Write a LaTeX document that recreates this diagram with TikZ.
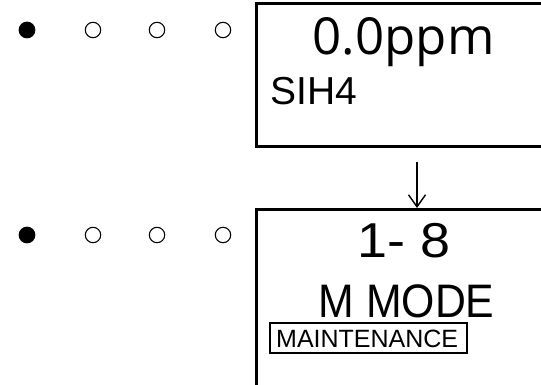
\documentclass[tikz,border=0pt]{standalone}
\usepackage{fontspec}
\setmainfont{Liberation Sans}
\newfontfamily\ppmfont{Open Sans}
\usetikzlibrary {arrows.meta}

\tikzset{
  lcd/.style={line width=3pt},
  ledon/.style={fill=black},
  ledoff/.style={draw=black,line width=1.1pt},
  txt/.style={inner sep=0pt,anchor=base west}
}

\begin{document}
\begin{tikzpicture}[x=1pt,y=-1pt]
\useasboundingbox (0,0) rectangle (541,385);

% LED rows
\foreach \row in {30,235}{
  \fill[ledon] (27,\row) circle (8.4);
  \foreach \col in {93,157,223}
    \draw[ledoff] (\col,\row) circle (7.7);
}

% first screen
\draw[lcd] (541,4) -- (256,4) -- (256,146.5) -- (541,146.5);
\node[txt] (ppm) at (312.5,55) {\ppmfont\fontsize{51}{51}\selectfont 0.0ppm};
\node[txt] (gas) at (270,105) {\fontsize{39}{39}\selectfont SIH4};

% second screen
\draw[lcd] (541,209) -- (256,209) -- (256,386);
\node[txt,xscale=1.1] (num) at (357,257) {\fontsize{49}{49}\selectfont 1- 8};
\node[txt,xscale=0.91] (mode) at (318.5,317) {\fontsize{47}{47}\selectfont M MODE};
\node[txt] (maint) at (276,347) {\fontsize{25}{25}\selectfont MAINTENANCE};
\draw[line width=1.5pt] (270,323) rectangle (467,353);

\coordinate (s1) at (417,162);
\coordinate (s2) at (417,208);
\draw[-{Straight Barb[length=12pt,width=17pt]},line width=1.4pt] (s1) -- (s2);
\end{tikzpicture}
\end{document}
